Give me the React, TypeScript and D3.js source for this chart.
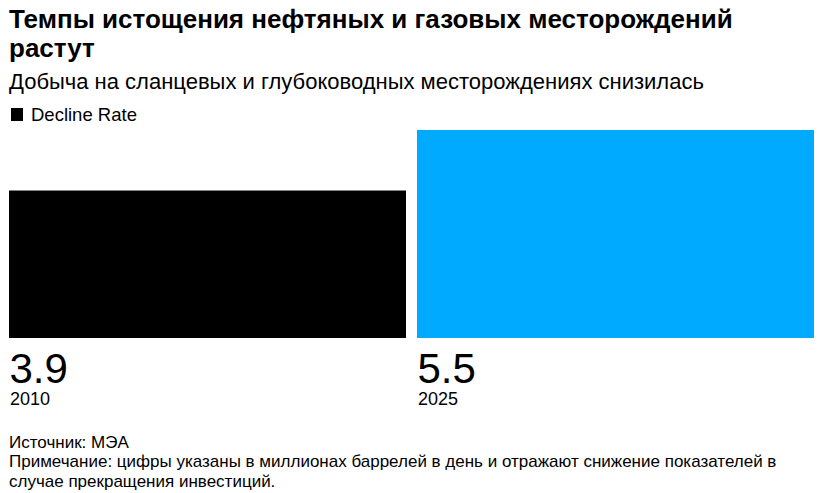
import * as d3 from 'd3';
import { type FC } from 'react';

const years = ['2010', '2025'];
const declineRate = [3.9, 5.5];
const barColors = ['#000000', '#00aaff'];

const WIDTH = 824;
const HEIGHT = 493;
const FONT = '"Liberation Sans", Arial, Helvetica, sans-serif';

const App: FC = () => {
  const xScale = d3.scaleBand().domain(years).range([9, 814]).paddingInner(0.027);
  const yScale = d3.scaleLinear().domain([0, 5.5]).range([338, 130]);

  return (
    <svg
      width={WIDTH}
      height={HEIGHT}
      style={{ position: 'absolute', left: 0, top: 0, background: '#fff' }}
      fontFamily={FONT}
    >
      <text x={9} y={28} fontSize={26} fontWeight="bold" fill="#000">
        Темпы истощения нефтяных и газовых месторождений
      </text>
      <text x={9} y={57} fontSize={26} fontWeight="bold" fill="#000">
        растут
      </text>
      <text x={9} y={89} fontSize={22} fill="#000">
        Добыча на сланцевых и глубоководных месторождениях снизилась
      </text>

      {/* legend */}
      <rect x={11} y={108} width={12} height={13} fill="#000" />
      <text x={31} y={121} fontSize={18.5} fill="#000">
        Decline Rate
      </text>

      {/* bars */}
      {years.map((yr, i) => (
        <g key={yr}>
          <rect
            x={xScale(yr)}
            y={yScale(declineRate[i])}
            width={xScale.bandwidth()}
            height={yScale(0) - yScale(declineRate[i])}
            fill={barColors[i]}
          />
          <text x={(xScale(yr) || 0) + 0.5} y={383} fontSize={42} fill="#000">
            {declineRate[i].toFixed(1)}
          </text>
          <text x={(xScale(yr) || 0) + 1} y={405} fontSize={18} fill="#000">
            {yr}
          </text>
        </g>
      ))}

      {/* footer */}
      <text x={9} y={448} fontSize={17} fill="#000">
        Источник: МЭА
      </text>
      <text x={9} y={467} fontSize={17} fill="#000">
        Примечание: цифры указаны в миллионах баррелей в день и отражают снижение показателей в
      </text>
      <text x={9} y={487} fontSize={17} fill="#000">
        случае прекращения инвестиций.
      </text>
    </svg>
  );
};

export default App;
